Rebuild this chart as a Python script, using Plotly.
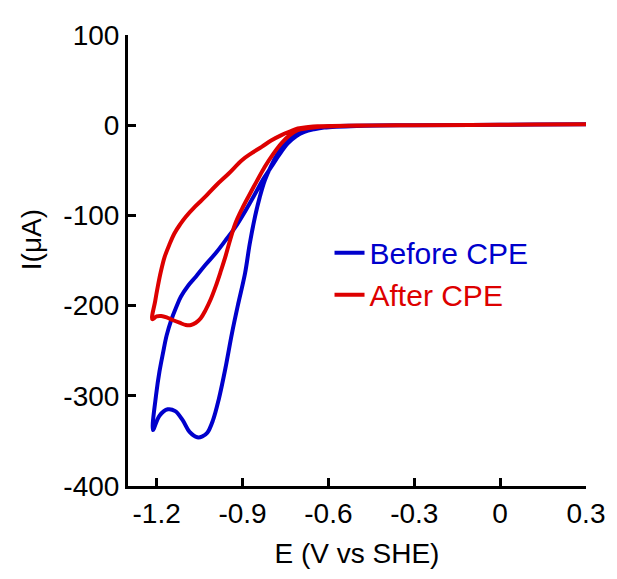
import plotly.graph_objects as go

# Cyclic voltammograms: cathodic sweep from 0.3 V to the vertex, then the return sweep
before_fwd_E = [0.3, 0.0, -0.3, -0.5, -0.615, -0.672, -0.705, -0.730, -0.755, -0.776,
                -0.800, -0.822, -0.840, -0.856, -0.875, -0.891, -0.915, -0.937, -0.960,
                -0.983, -1.003, -1.023, -1.040, -1.058, -1.085, -1.109, -1.135, -1.161,
                -1.190, -1.213]
before_fwd_I = [1, 0.5, 0, -0.5, -1.9, -5.5, -9, -13, -22, -31,
                -45, -61, -80, -101, -132, -164, -198, -231, -270,
                -304, -327, -341, -345, -346, -340, -327, -317, -315,
                -322, -338]
before_rev_E = [-1.201, -1.190, -1.178, -1.165, -1.149, -1.132, -1.115, -1.090, -1.063,
                -1.030, -0.994, -0.960, -0.925, -0.890, -0.856, -0.828, -0.799, -0.770,
                -0.741, -0.712, -0.684, -0.650, -0.615, -0.5, -0.3, 0.0, 0.3]
before_rev_I = [-297, -273, -253, -233, -216, -202, -190, -178, -168,
                -155, -142, -128, -113, -95, -76, -60, -46, -32,
                -20, -12, -7.4, -4.5, -2.6, -0.8, 0, 0.5, 1]

after_fwd_E = [0.3, 0.0, -0.3, -0.5, -0.638, -0.675, -0.707, -0.735, -0.764, -0.793,
               -0.822, -0.850, -0.879, -0.902, -0.925, -0.943, -0.960, -0.977, -0.994,
               -1.011, -1.029, -1.046, -1.063, -1.080, -1.098, -1.120, -1.144, -1.165,
               -1.184, -1.200, -1.215]
after_fwd_I = [1, 0.5, 0, -0.5, -1.9, -3.5, -5.5, -11, -20, -32,
               -46, -62, -79, -93, -109, -127, -146, -163, -179,
               -193, -205, -214, -219, -221.5, -221.5, -219, -216, -213,
               -211.5, -212, -215]
after_rev_E = [-1.205, -1.196, -1.185, -1.172, -1.155, -1.138, -1.118, -1.098, -1.065,
               -1.029, -0.990, -0.948, -0.902, -0.868, -0.833, -0.800, -0.764, -0.735,
               -0.707, -0.670, -0.638, -0.5, -0.3, 0.0, 0.3]
after_rev_I = [-195, -179, -162, -146, -132, -120, -110, -101.5, -90,
               -79, -66, -53.5, -38.8, -31, -24, -17, -11, -7,
               -3.7, -2.0, -1.1, -0.4, 0, 0.5, 1]

x_ticks = [-1.2, -0.9, -0.6, -0.3, 0, 0.3]
x_tick_text = ["-1.2", "-0.9", "-0.6", "-0.3", "0", "0.3"]
y_ticks = [100, 0, -100, -200, -300, -400]
y_tick_text = ["100", "0", "-100", "-200", "-300", "-400"]

BLUE = "#0000cc"
RED = "#dd0000"
FONT = "Arial, Liberation Sans, sans-serif"

fig = go.Figure()
fig.add_trace(go.Scatter(
    x=before_fwd_E + before_rev_E, y=before_fwd_I + before_rev_I,
    mode="lines", line=dict(color=BLUE, width=4, shape="spline", smoothing=1.0),
    name=f"<span style='color:{BLUE}'>Before CPE</span>",
))
fig.add_trace(go.Scatter(
    x=after_fwd_E + after_rev_E, y=after_fwd_I + after_rev_I,
    mode="lines", line=dict(color=RED, width=4, shape="spline", smoothing=1.0),
    name=f"<span style='color:{RED}'>After CPE</span>",
))

axis_common = dict(
    showgrid=False, zeroline=False, showline=True, linecolor="black", linewidth=3,
    ticks="inside", ticklen=8, tickwidth=2.5, tickcolor="black",
    tickfont=dict(family=FONT, size=28, color="black"),
)
fig.update_xaxes(range=[-1.3, 0.3], tickvals=x_ticks, ticktext=x_tick_text,
                 title=dict(text="E (V vs SHE)", font=dict(family=FONT, size=28, color="black"),
                            standoff=16),
                 **axis_common)
fig.update_yaxes(range=[-400, 100], tickvals=y_ticks, ticktext=y_tick_text, **axis_common)

fig.add_annotation(text="I(μA)", textangle=-90, xref="paper", yref="paper",
                   x=-0.25, y=0.545, showarrow=False,
                   font=dict(family=FONT, size=28, color="black"))

fig.update_layout(
    width=617, height=579,
    margin=dict(l=128, r=26, t=35, b=93),
    plot_bgcolor="white", paper_bgcolor="white",
    legend=dict(x=0.44, y=0.575, xanchor="left", yanchor="top",
                font=dict(family=FONT, size=30), bgcolor="rgba(0,0,0,0)",
                tracegroupgap=0, itemwidth=30),
    showlegend=True,
)

fig.write_html("out.html")
